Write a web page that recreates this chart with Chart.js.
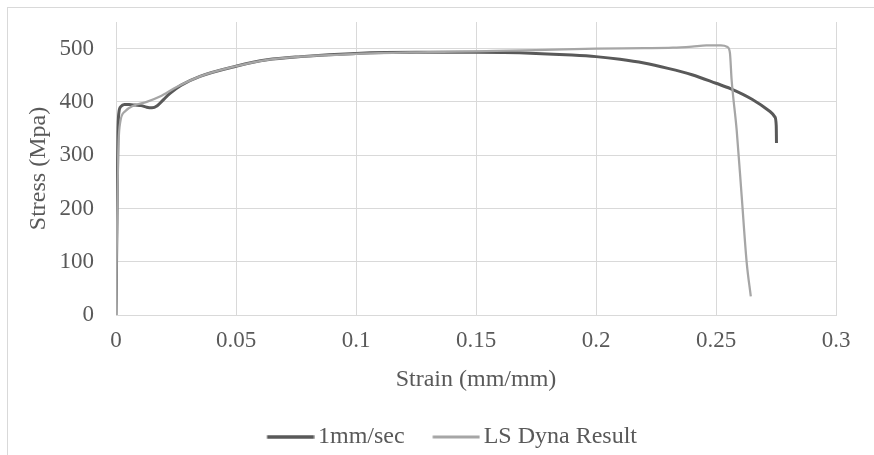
<!DOCTYPE html>
<html>
<head>
<meta charset="utf-8">
<script src="https://cdn.jsdelivr.net/npm/chart.js@4.4.1/dist/chart.umd.min.js"></script>
<style>
  html, body { margin: 0; padding: 0; background: #fff; overflow: hidden; }
  body { width: 874px; height: 455px; position: relative; }
  #frame { position: absolute; left: 7px; top: 7px; width: 1000px; height: 600px; border: 1px solid #d9d9d9; }
  #wrap { position: absolute; left: 9px; top: 9px; }
</style>
</head>
<body>
<div id="frame"></div>
<div id="wrap"><canvas id="stressChart" width="888" height="450"></canvas></div>
<script>
const seriesNames = ['1mm/sec', 'LS Dyna Result'];

// tensile test, 1mm/sec
const strainTest = [0, 0.0004, 0.0008, 0.0012, 0.002, 0.0035, 0.0055, 0.008, 0.0105, 0.0128, 0.015, 0.0172,
  0.0195, 0.0225, 0.027, 0.035, 0.05, 0.063, 0.077, 0.1, 0.125, 0.15, 0.175, 0.19, 0.2, 0.21, 0.22, 0.23,
  0.24, 0.25, 0.256, 0.265, 0.2725, 0.2745, 0.2751, 0.2752];
const stressTest = [0, 180, 340, 380, 391, 395, 395, 394, 393, 390, 389, 393,
  403, 416, 431, 448, 467, 479, 485, 491, 493, 493, 491, 488, 485, 480, 473, 463,
  451, 435, 425, 405, 382, 372, 355, 323];

// simulation
const strainDyna = [0, 0.0004, 0.0009, 0.0017, 0.0037, 0.0072, 0.0128, 0.0183, 0.0253, 0.035, 0.049, 0.063,
  0.077, 0.1, 0.125, 0.15, 0.175, 0.2, 0.22, 0.232, 0.24, 0.246, 0.252, 0.2548, 0.2558, 0.2565, 0.2586,
  0.2607, 0.2628, 0.2645];
const stressDyna = [0, 150, 300, 360, 382, 393, 400, 410, 428, 448, 466, 479,
  485, 490, 493, 495, 497, 500, 501, 502, 504, 506, 506, 503, 492, 442, 348,
  223, 98, 35];

const strainTicks = [0, 0.05, 0.1, 0.15, 0.2, 0.25, 0.3];
const stressTicks = [0, 100, 200, 300, 400, 500];

const textColor = '#595959';
const gridColor = '#d9d9d9';
const serif = "'Liberation Serif', 'Times New Roman', serif";
const tickFont = { family: serif, size: 23 };
const labelFont = { family: serif, size: 24 };

function toPoints(xs, ys) {
  return xs.map((x, i) => ({ x: x, y: ys[i] }));
}

// legend sample: a 47px line, drawn so the text sits close to it
function legendLine(color, width) {
  const c = document.createElement('canvas');
  c.width = 56;
  c.height = 6;
  const g = c.getContext('2d');
  g.fillStyle = color;
  g.fillRect(8.5, 3 - width / 2, 47, width);
  return c;
}

// centre the legend on the whole frame, not on the padded box
const legendShift = {
  id: 'legendShift',
  beforeDraw(chart) {
    const lg = chart.legend;
    lg.right = lg.left + 886;
  }
};

const ctx = document.getElementById('stressChart').getContext('2d');
new Chart(ctx, {
  type: 'scatter',
  data: {
    datasets: [{
      label: seriesNames[0],
      data: toPoints(strainTest, stressTest),
      showLine: true,
      borderColor: '#595959',
      backgroundColor: '#595959',
      borderWidth: 3,
      order: 1
    }, {
      label: seriesNames[1],
      data: toPoints(strainDyna, stressDyna),
      showLine: true,
      borderColor: '#a6a6a6',
      backgroundColor: '#a6a6a6',
      borderWidth: 2.25,
      order: 0
    }]
  },
  options: {
    responsive: false,
    animation: false,
    layout: { padding: { left: 0, right: 61, top: 13, bottom: 0 } },
    elements: {
      point: { radius: 0, hoverRadius: 0 },
      line: { cubicInterpolationMode: 'monotone', fill: false }
    },
    scales: {
      x: {
        type: 'linear',
        min: 0,
        max: 0.3,
        afterBuildTicks: scale => { scale.ticks = strainTicks.map(v => ({ value: v })); },
        afterFit: scale => { scale.height = 82; scale.paddingLeft = 0; scale.paddingRight = 0; },
        grid: { color: gridColor, drawTicks: false },
        border: { color: gridColor },
        ticks: {
          color: textColor,
          font: tickFont,
          padding: 12,
          autoSkip: false,
          maxRotation: 0,
          callback: v => String(+Number(v).toFixed(2))
        },
        title: {
          display: true,
          text: 'Strain (mm/mm)',
          color: textColor,
          font: labelFont,
          padding: { top: 0, bottom: 3 }
        }
      },
      y: {
        min: 0,
        max: 550,
        afterBuildTicks: scale => { scale.ticks = stressTicks.map(v => ({ value: v })); },
        afterFit: scale => { scale.width = 107; scale.paddingTop = 0; scale.paddingBottom = 0; },
        grid: { color: gridColor, drawTicks: false },
        border: { color: gridColor },
        ticks: { color: textColor, font: tickFont, padding: 22 },
        title: {
          display: true,
          text: 'Stress (Mpa)',
          color: textColor,
          font: labelFont,
          padding: { top: 15, bottom: 0 }
        }
      }
    },
    plugins: {
      legend: {
        position: 'bottom',
        labels: {
          usePointStyle: true,
          pointStyleWidth: 39,
          boxHeight: 6,
          padding: 28,
          color: textColor,
          font: labelFont,
          sort: (a, b) => a.datasetIndex - b.datasetIndex,
          generateLabels: chart => Chart.defaults.plugins.legend.labels.generateLabels(chart)
            .map(item => Object.assign(item, {
              pointStyle: legendLine(item.strokeStyle, item.datasetIndex === 0 ? 3.5 : 3),
              lineWidth: 0
            }))
        }
      },
      tooltip: { enabled: false }
    }
  },
  plugins: [legendShift]
});
</script>
</body>
</html>
